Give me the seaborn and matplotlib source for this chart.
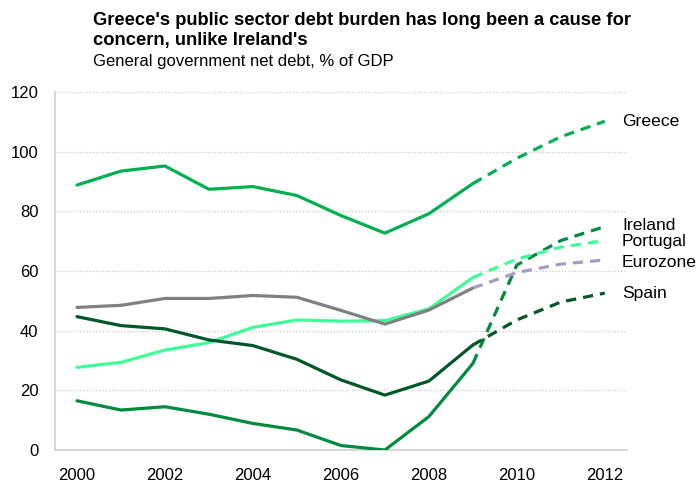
#!/usr/bin/env python3
"""General government net debt, % of GDP: Greece vs Ireland, Portugal, Spain, Eurozone."""
import matplotlib

matplotlib.use("Agg")
import matplotlib.pyplot as plt
import numpy as np
import pandas as pd
import seaborn as sns

YEARS = list(range(2000, 2013))
ACTUAL_END = 2009  # solid up to here, forecasts dashed after

GREECE = [88.8, 93.5, 95.2, 87.4, 88.3, 85.3, 78.6, 72.7, 79.2, 89.3, 97.8, 105.0, 110.2]
IRELAND = [16.5, 13.4, 14.5, 12.0, 8.9, 6.7, 1.5, 0.0, 11.2, 29.0, 62.0, 70.2, 74.9]
PORTUGAL = [27.7, 29.4, 33.5, 36.0, 41.1, 43.6, 43.2, 43.4, 47.3, 57.8, 64.0, 68.0, 70.2]
EUROZONE = [47.8, 48.5, 50.8, 50.8, 51.8, 51.2, 46.8, 42.2, 46.9, 54.3, 59.5, 62.3, 63.7]
SPAIN = [44.7, 41.7, 40.6, 36.9, 35.0, 30.4, 23.5, 18.4, 23.1, 35.2, 43.6, 49.6, 52.6]

SERIES = {
    "Greece": GREECE,
    "Ireland": IRELAND,
    "Portugal": PORTUGAL,
    "Eurozone": EUROZONE,
    "Spain": SPAIN,
}
# (solid colour, dashed colour)
COLORS = {
    "Greece": ("#00B050", "#00B050"),
    "Ireland": ("#008A3E", "#008A3E"),
    "Portugal": ("#3DFF98", "#3DFF98"),
    "Eurozone": ("#808080", "#A899C9"),
    "Spain": ("#00572A", "#00572A"),
}
LABEL_Y = {"Greece": 110, "Ireland": 75.2, "Portugal": 69.8, "Eurozone": 62.7, "Spain": 52.6}

sns.set_theme(style="white")
plt.rcParams["font.family"] = ["Liberation Sans", "DejaVu Sans"]
plt.rcParams["text.color"] = "black"
plt.rcParams["xtick.color"] = "black"
plt.rcParams["ytick.color"] = "black"

rows = []
for name, vals in SERIES.items():
    for y, v in zip(YEARS, vals):
        rows.append({"country": name, "year": y, "debt": v})
df = pd.DataFrame(rows)

fig = plt.figure(figsize=(6.99, 4.83), dpi=100)
ax = fig.add_axes([0.0787, 0.0683, 0.818, 0.7412])

for name in SERIES:
    sub = df[df["country"] == name]
    solid = sub[sub["year"] <= ACTUAL_END]
    dashed = sub[sub["year"] >= ACTUAL_END]
    c_solid, c_dash = COLORS[name]
    sns.lineplot(data=solid, x="year", y="debt", color=c_solid, linewidth=2.3, ax=ax, zorder=3)
    sns.lineplot(data=dashed, x="year", y="debt", color=c_dash, linewidth=2.3, ax=ax, zorder=3)
    ax.lines[-1].set_dashes((3.2, 2.2))
    ax.text(2012.39, LABEL_Y[name], name, fontsize=12.6, va="center", ha="left", color="black")

ax.set_xlim(1999.5, 2012.5)
ax.set_ylim(0, 120)
ax.set_xticks(np.arange(1999.5, 2013, 1.0))
ax.set_xticklabels([])
ax.set_xticks(list(range(2000, 2013, 2)), minor=True)
ax.set_xticklabels([str(y) for y in range(2000, 2013, 2)], minor=True)
ax.set_yticks(range(0, 121, 20))
ax.tick_params(axis="x", which="major", direction="out", length=4, color="#D0D0D0", width=1)
ax.tick_params(axis="x", which="minor", length=0, labelsize=12, pad=13, labelcolor="black")
ax.tick_params(axis="y", direction="out", length=4, color="#D0D0D0", width=1, labelsize=12,
               pad=8, labelcolor="black")
ax.set_xlabel("")
ax.set_ylabel("")

for v in range(20, 121, 20):
    ax.axhline(v, color="#C8C8C8", linestyle=(0, (1, 1.5)), linewidth=0.9, zorder=1)

for side in ["top", "right"]:
    ax.spines[side].set_visible(False)
for side in ["left", "bottom"]:
    ax.spines[side].set_color("#D0D0D0")
    ax.spines[side].set_linewidth(1.2)

fig.text(0.133, 0.957, "Greece's public sector debt burden has long been a cause for",
         fontsize=13.2, fontweight="bold", ha="left", va="center")
fig.text(0.133, 0.916, "concern, unlike Ireland's",
         fontsize=13.2, fontweight="bold", ha="left", va="center")
fig.text(0.133, 0.872, "General government net debt, % of GDP",
         fontsize=12, ha="left", va="center")

fig.savefig("out.png", dpi=100)
